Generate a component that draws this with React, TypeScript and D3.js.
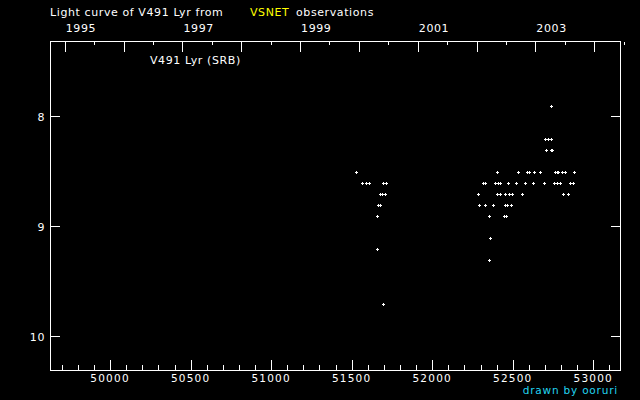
import * as d3 from "d3";

// JD - 2400000 and visual magnitudes
const season1JD = [51529, 51566, 51591, 51608, 51659, 51659, 51662, 51674, 51678, 51689, 51696, 51697, 51709, 51714];
const season1Mag = [8.5, 8.6, 8.6, 8.6, 8.9, 9.2, 8.8, 8.7, 8.8, 8.7, 9.7, 8.6, 8.7, 8.6];

const season2JD = [
  52287, 52293, 52313, 52325, 52330, 52353, 52355, 52359, 52380, 52392, 52400, 52405, 52407, 52418,
  52421, 52444, 52454, 52454, 52460, 52467, 52473, 52474, 52491, 52498, 52521, 52531, 52560, 52578,
  52591, 52603, 52628, 52631, 52672, 52696, 52703, 52705, 52719, 52736, 52738, 52740, 52744, 52758,
  52761, 52773, 52773, 52781, 52794, 52806, 52814, 52825, 52845, 52856, 52873, 52883,
];
const season2Mag = [
  8.7, 8.8, 8.6, 8.6, 8.8, 8.9, 9.3, 9.1, 8.8, 8.6, 8.7, 8.5, 8.6, 8.7,
  8.6, 8.9, 8.7, 8.8, 8.9, 8.8, 8.6, 8.7, 8.8, 8.7, 8.6, 8.5, 8.7, 8.6,
  8.5, 8.5, 8.6, 8.5, 8.5, 8.6, 8.2, 8.3, 8.2, 8.2, 8.3, 7.9, 8.3, 8.6,
  8.5, 8.5, 8.6, 8.5, 8.6, 8.5, 8.7, 8.5, 8.7, 8.6, 8.6, 8.5,
];

const magTicks = [8, 9, 10];
const jdMajor = d3.range(50000, 53001, 500);
const jdMinor = d3.range(49700, 53101, 100);
const years = d3.range(1995, 2005);
const labelYears = [1995, 1997, 1999, 2001, 2003];

const W = 640;
const H = 400;
const left = 50;
const right = 620;
const top = 41;
const bottom = 370;
const font = "DejaVu Sans, sans-serif";

// calendar date -> JD - 2400000
const toJD = (y: number, m: number, d: number) => Date.UTC(y, m, d) / 86400000 + 40587.5;

export default function App() {
  const x = d3.scaleLinear().domain([49627, 53166]).range([left, right]);
  const y = d3.scaleLinear().domain([7.318, 10.309]).range([top, bottom]);

  const px = (v: number) => Math.round(v) + 0.5;

  const points = [
    ...season1JD.map((jd, i) => ({ jd, mag: season1Mag[i] })),
    ...season2JD.map((jd, i) => ({ jd, mag: season2Mag[i] })),
  ];

  return (
    <svg
      width={W}
      height={H}
      style={{ position: "absolute", left: 0, top: 0, background: "#000", display: "block" }}
    >
      <rect x={0} y={0} width={W} height={H} fill="#000" />

      {/* title */}
      <text x={50} y={16} fill="#fff" fontFamily={font} fontSize={11} letterSpacing={0.6}>
        Light curve of V491 Lyr from
      </text>
      <text x={250} y={16} fill="#ffff00" fontFamily={font} fontSize={11} letterSpacing={0.6}>
        VSNET
      </text>
      <text x={296} y={16} fill="#fff" fontFamily={font} fontSize={11} letterSpacing={0.6}>
        observations
      </text>

      <g stroke="#fff" strokeWidth={1} shapeRendering="crispEdges">
        {/* frame */}
        <rect x={left + 0.5} y={top + 0.5} width={right - left} height={bottom - top} fill="none" />

        {/* magnitude ticks, both sides */}
        {magTicks.map((m) => (
          <g key={m}>
            <line x1={left} x2={left + 10} y1={px(y(m))} y2={px(y(m))} />
            <line x1={right - 9} x2={right + 1} y1={px(y(m))} y2={px(y(m))} />
          </g>
        ))}

        {/* JD ticks along the bottom */}
        {jdMinor.map((d) => (
          <line key={d} x1={px(x(d))} x2={px(x(d))} y1={bottom} y2={bottom - (d % 500 === 0 ? 10 : 5)} />
        ))}

        {/* year ticks along the top */}
        {years.map((yr) => (
          <g key={yr}>
            <line x1={px(x(toJD(yr, 0, 1)))} x2={px(x(toJD(yr, 0, 1)))} y1={top + 1} y2={top + 11} />
            <line x1={px(x(toJD(yr, 6, 2)))} x2={px(x(toJD(yr, 6, 2)))} y1={top + 1} y2={top + 4} />
          </g>
        ))}
      </g>

      {/* year labels */}
      {labelYears.map((yr) => (
        <text key={yr} x={x(toJD(yr, 0, 1)) + 1} y={32} fill="#fff" fontFamily={font} fontSize={11} letterSpacing={0.6}>
          {yr}
        </text>
      ))}

      {/* JD labels */}
      {jdMajor.map((d) => (
        <text
          key={d}
          x={x(d)}
          y={382}
          fill="#fff"
          fontFamily={font}
          fontSize={10.5}
          letterSpacing={1.2}
          textAnchor="middle"
        >
          {d}
        </text>
      ))}

      {/* magnitude labels */}
      {magTicks.map((m) => (
        <text key={m} x={45} y={y(m) + 4.5} fill="#fff" fontFamily={font} fontSize={11} letterSpacing={0.6} textAnchor="end">
          {m}
        </text>
      ))}

      <text x={150} y={64} fill="#fff" fontFamily={font} fontSize={11} letterSpacing={0.6}>
        V491 Lyr (SRB)
      </text>

      {/* observations as small plus marks */}
      <g fill="#fff" shapeRendering="crispEdges">
        {points.map((p, i) => {
          const cx = Math.round(x(p.jd));
          const cy = Math.round(y(p.mag)) + 1;
          return (
            <g key={i}>
              <rect x={cx - 1} y={cy} width={3} height={1} />
              <rect x={cx} y={cy - 1} width={1} height={3} />
            </g>
          );
        })}
      </g>

      <text x={618} y={394} fill="#22d4f0" fontFamily={font} fontSize={10.5} letterSpacing={0.8} textAnchor="end">
        drawn by ooruri
      </text>
    </svg>
  );
}
